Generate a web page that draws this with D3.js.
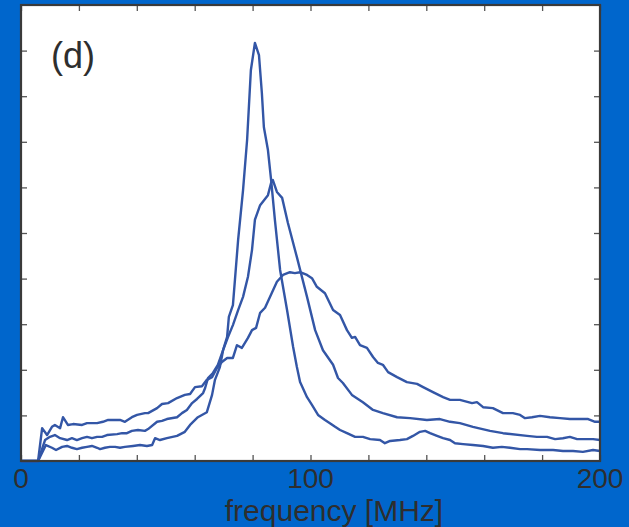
<!DOCTYPE html>
<html>
<head>
<meta charset="utf-8">
<script src="https://cdn.jsdelivr.net/npm/d3@7"></script>
<style>
  html, body { margin: 0; padding: 0; background: #0066cc; }
  svg { display: block; }
</style>
</head>
<body>
<svg id="chart" width="629" height="527"></svg>
<script>
// Spectra: frequency (MHz) and amplitude (arb. units) for three traces
const freqA = [0,5.9,8.6,10.7,12.1,14.2,15.9,17.6,19.3,21.1,22.8,24.5,26.3,27.3,29.0,30.7,32.5,34.2,35.9,38.7,41.1,43.5,45.3,46.3,48.0,50.4,53.9,56.6,58.4,61.1,64.2,66.0,67.0,68.7,69.8,71.2,71.8,73.2,73.9,75.0,76.7,78.1,79.4,80.8,82.2,83.2,83.9,85.3,86.4,87.7,89.5,91.9,94.0,95.3,96.4,98.8,100.5,102.6,105.0,106.7,108.5,110.2,112.6,115.4,118.1,120.6,124.0,125.7,127.5,130.9,133.3,135.4,137.8,139.6,141.3,143.7,145.8,148.2,149.9,152.7,156.1,159.6,163.0,166.1,168.9,172.4,174.8,179.3,183.8,187.2,190.7,194.1,197.6,200];
const ampA  = [0,0,0.35,0.29,0.24,0.31,0.33,0.29,0.26,0.29,0.31,0.33,0.29,0.26,0.29,0.31,0.31,0.29,0.31,0.33,0.35,0.33,0.35,0.50,0.46,0.50,0.55,0.64,0.79,0.96,1.07,1.45,1.78,2.06,2.43,2.72,3.16,3.42,3.97,4.85,5.94,7.04,8.57,9.17,8.90,8.07,7.32,6.82,6.16,5.29,4.19,3.31,2.50,2.06,1.73,1.40,1.23,1.01,0.90,0.83,0.75,0.68,0.61,0.53,0.53,0.48,0.46,0.39,0.44,0.46,0.48,0.55,0.64,0.66,0.61,0.55,0.50,0.46,0.39,0.37,0.35,0.33,0.29,0.31,0.29,0.26,0.26,0.24,0.24,0.22,0.22,0.20,0.24,0.22];

const freqB = [0,5.9,8.3,10.0,11.7,13.5,15.9,17.6,19.3,21.1,22.8,24.5,26.3,28.0,29.7,33.2,34.9,36.6,38.3,40.4,42.8,43.9,47.0,48.7,50.4,53.9,55.6,57.3,59.1,60.8,62.9,63.6,64.6,66.3,68.0,69.8,71.5,73.2,75.0,76.7,78.4,79.8,80.8,82.6,85.3,86.4,87.0,88.4,90.2,92.2,95.3,98.8,101.6,104.3,107.8,109.5,111.2,114.3,118.1,121.6,125.0,129.9,134.4,140.2,144.7,148.2,151.6,156.1,162.0,166.5,174.8,178.2,181.7,184.5,187.2,189.6,192.1,197.6,200];
const ampB  = [0,0,0.46,0.53,0.57,0.50,0.46,0.50,0.46,0.50,0.53,0.50,0.53,0.53,0.57,0.59,0.61,0.61,0.66,0.68,0.66,0.70,0.86,0.88,0.92,0.96,1.05,1.12,1.27,1.36,1.49,1.60,1.82,1.93,2.11,2.43,2.72,2.98,3.31,3.60,4.04,4.63,5.29,5.61,5.83,6.10,6.16,5.90,5.77,5.22,4.47,3.60,2.87,2.43,2.11,1.82,1.71,1.45,1.29,1.12,1.05,0.96,0.94,0.90,0.92,0.86,0.83,0.75,0.66,0.61,0.55,0.53,0.53,0.48,0.50,0.53,0.48,0.48,0.46];

const freqC = [0,5.9,7.3,9.0,10.7,11.7,13.5,14.5,16.2,18.0,21.1,22.8,26.3,28.3,30.1,34.2,35.9,38.3,40.1,42.8,43.9,47.0,48.7,50.8,53.9,56.6,58.4,60.1,62.5,64.2,66.0,67.7,69.4,71.2,73.2,74.6,76.3,78.4,79.8,81.2,82.6,84.3,88.4,90.5,92.9,94.6,96.4,98.8,100.5,102.2,105.0,107.8,110.2,112.6,114.3,115.4,117.1,119.5,121.6,123.3,125.0,126.8,129.9,133.3,136.8,138.9,142.3,145.8,148.2,151.6,155.8,157.5,159.6,163.0,166.5,169.9,172.4,174.1,176.5,179.3,182.7,186.2,189.6,194.1,195.9,198.3,200];
const ampC  = [0,0,0.72,0.57,0.75,0.79,0.72,0.96,0.79,0.81,0.79,0.83,0.83,0.86,0.90,0.90,0.86,0.96,1.01,1.05,1.05,1.16,1.25,1.27,1.38,1.45,1.47,1.62,1.64,1.78,1.84,2.04,2.17,2.26,2.26,2.54,2.48,2.70,2.87,2.92,3.25,3.36,3.93,4.08,4.14,4.12,4.14,4.08,4.01,3.82,3.68,3.31,3.20,2.87,2.70,2.72,2.54,2.48,2.28,2.15,2.11,1.95,1.84,1.73,1.69,1.62,1.51,1.40,1.34,1.34,1.27,1.29,1.18,1.16,1.05,1.05,1.01,0.94,0.96,0.99,0.96,0.94,0.92,0.92,0.92,0.86,0.86];

const xTickValues = [0,20,40,60,80,100,120,140,160,180,200];
const xTickLabels = ["0","100","200"];
const yTickValues = [1,2,3,4,5,6,7,8,9];
const panelLabel = "(d)";
const xTitle = "frequency [MHz]";

const svg = d3.select("#chart");
const plotL = 21, plotR = 600, plotT = 5, plotB = 461;

const x = d3.scaleLinear().domain([0, 200]).range([plotL, plotR]);
const y = d3.scaleLinear().domain([0, 10]).range([plotB, plotT]);

// plot area
svg.append("rect")
  .attr("x", plotL).attr("y", plotT)
  .attr("width", plotR - plotL).attr("height", plotB - plotT)
  .attr("fill", "#ffffff");

// inward ticks on all four sides
const tickLen = 6;
const fmtNone = () => "";
const axes = [
  d3.axisBottom(x).tickValues(xTickValues).tickSizeInner(-tickLen).tickSizeOuter(0).tickFormat(fmtNone),
  d3.axisTop(x).tickValues(xTickValues).tickSizeInner(-tickLen).tickSizeOuter(0).tickFormat(fmtNone),
  d3.axisLeft(y).tickValues(yTickValues).tickSizeInner(-tickLen).tickSizeOuter(0).tickFormat(fmtNone),
  d3.axisRight(y).tickValues(yTickValues).tickSizeInner(-tickLen).tickSizeOuter(0).tickFormat(fmtNone)
];
const offsets = [[0, plotB], [0, plotT], [plotL, 0], [plotR, 0]];
axes.forEach((ax, i) => {
  const g = svg.append("g")
    .attr("transform", `translate(${offsets[i][0]},${offsets[i][1]})`)
    .call(ax);
  g.select(".domain").remove();
  g.selectAll(".tick line").attr("stroke", "#555").attr("stroke-width", 1.3);
});

// traces
const line = d3.line().x(d => x(d[0])).y(d => y(d[1]));
[[freqA, ampA], [freqB, ampB], [freqC, ampC]].forEach(([f, a]) => {
  svg.append("path")
    .datum(f.map((v, i) => [v, a[i]]))
    .attr("d", line)
    .attr("fill", "none")
    .attr("stroke", "#3356a6")
    .attr("stroke-width", 2.4)
    .attr("stroke-linejoin", "round");
});

// frame
svg.append("rect")
  .attr("x", plotL).attr("y", plotT)
  .attr("width", plotR - plotL).attr("height", plotB - plotT)
  .attr("fill", "none")
  .attr("stroke", "#3a3a3a")
  .attr("stroke-width", 2.2);

// tick labels
svg.selectAll("text.xlab")
  .data(xTickLabels)
  .enter().append("text")
  .attr("class", "xlab")
  .attr("x", d => x(+d))
  .attr("y", 488)
  .attr("text-anchor", "middle")
  .attr("font-family", "Liberation Sans, Arial, sans-serif")
  .attr("font-size", 28)
  .attr("fill", "#2e2e2e")
  .text(d => d);

// axis title
svg.append("text")
  .attr("x", 334)
  .attr("y", 521)
  .attr("text-anchor", "middle")
  .attr("font-family", "Liberation Sans, Arial, sans-serif")
  .attr("font-size", 30)
  .attr("fill", "#2e2e2e")
  .text(xTitle);

// panel label
svg.append("text")
  .attr("x", 51)
  .attr("y", 68)
  .attr("font-family", "Liberation Sans, Arial, sans-serif")
  .attr("font-size", 36)
  .attr("fill", "#2e2e2e")
  .text(panelLabel);
</script>
</body>
</html>
